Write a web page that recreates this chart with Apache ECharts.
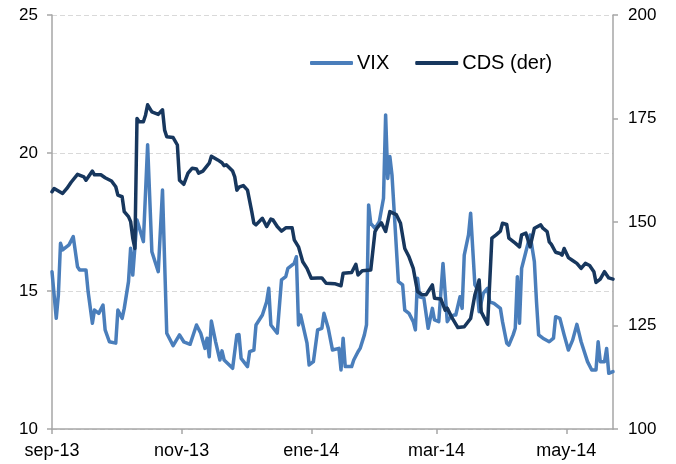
<!DOCTYPE html>
<html lang="es">

<head>
  <meta charset="utf-8" />
  <title>VIX y CDS</title>
  <script src="https://cdn.jsdelivr.net/npm/echarts@6/dist/echarts.min.js"></script>
  <style>
    * {
      margin: 0;
      padding: 0;
    }

    #chart-container {
      width: 676px;
      height: 464px;
      background: #fff;
    }
  </style>
</head>

<body>
  <div id="chart-container"></div>

  <script>
    // datos (fechas aproximadas)
    const vixDates = [
      '2013-09-01', '2013-09-03', '2013-09-04', '2013-09-05', '2013-09-06', '2013-09-09', '2013-09-11', '2013-09-13',
      '2013-09-14', '2013-09-17', '2013-09-18', '2013-09-20', '2013-09-21', '2013-09-23', '2013-09-25', '2013-09-26',
      '2013-09-28', '2013-10-01', '2013-10-02', '2013-10-04', '2013-10-05', '2013-10-07', '2013-10-08', '2013-10-09',
      '2013-10-11', '2013-10-14', '2013-10-16', '2013-10-18', '2013-10-21', '2013-10-23', '2013-10-25', '2013-10-28',
      '2013-10-31', '2013-11-02', '2013-11-05', '2013-11-08', '2013-11-10', '2013-11-12', '2013-11-13', '2013-11-14',
      '2013-11-15', '2013-11-17', '2013-11-19', '2013-11-20', '2013-11-21', '2013-11-25', '2013-11-27', '2013-11-28',
      '2013-11-29', '2013-12-02', '2013-12-03', '2013-12-05', '2013-12-06', '2013-12-09', '2013-12-11', '2013-12-12',
      '2013-12-13', '2013-12-16', '2013-12-18', '2013-12-20', '2013-12-21', '2013-12-24', '2013-12-25', '2013-12-26',
      '2013-12-27', '2013-12-30', '2013-12-31', '2014-01-02', '2014-01-04', '2014-01-06', '2014-01-07', '2014-01-09',
      '2014-01-11', '2014-01-14', '2014-01-15', '2014-01-16', '2014-01-17', '2014-01-20', '2014-01-21', '2014-01-23',
      '2014-01-24', '2014-01-26', '2014-01-27', '2014-01-28', '2014-01-29', '2014-01-31', '2014-02-02', '2014-02-04',
      '2014-02-05', '2014-02-06', '2014-02-07', '2014-02-08', '2014-02-11', '2014-02-13', '2014-02-14', '2014-02-16',
      '2014-02-18', '2014-02-19', '2014-02-20', '2014-02-21', '2014-02-23', '2014-02-25', '2014-02-27', '2014-02-28',
      '2014-03-02', '2014-03-04', '2014-03-06', '2014-03-07', '2014-03-09', '2014-03-10', '2014-03-12', '2014-03-13',
      '2014-03-14', '2014-03-16', '2014-03-17', '2014-03-19', '2014-03-20', '2014-03-21', '2014-03-23', '2014-03-25',
      '2014-03-26', '2014-03-28', '2014-03-31', '2014-04-01', '2014-04-03', '2014-04-04', '2014-04-06', '2014-04-07',
      '2014-04-08', '2014-04-09', '2014-04-10', '2014-04-12', '2014-04-14', '2014-04-16', '2014-04-17', '2014-04-18',
      '2014-04-20', '2014-04-23', '2014-04-25', '2014-04-26', '2014-04-28', '2014-04-30', '2014-05-02', '2014-05-04',
      '2014-05-06', '2014-05-08', '2014-05-11', '2014-05-13', '2014-05-15', '2014-05-16', '2014-05-17', '2014-05-19',
      '2014-05-20', '2014-05-21', '2014-05-23'
    ];
    const vixValues = [
      15.70, 14.01, 14.86, 16.73, 16.49, 16.67, 16.97, 15.88,
      15.76, 15.76, 14.97, 13.83, 14.31, 14.19, 14.49, 13.59,
      13.16, 13.11, 14.31, 14.01, 14.37, 15.34, 16.55, 15.58,
      17.57, 16.79, 20.30, 16.42, 15.70, 18.66, 13.47, 13.02,
      13.41, 13.16, 13.07, 13.77, 13.47, 12.92, 13.29, 12.62,
      13.91, 13.16, 12.50, 12.83, 12.50, 12.20, 13.41, 13.42,
      12.56, 12.26, 12.80, 12.86, 13.77, 14.13, 14.61, 15.10,
      13.77, 13.47, 15.40, 15.52, 15.82, 16.00, 16.24, 13.77,
      14.13, 13.11, 12.32, 12.44, 13.59, 13.65, 14.19, 13.65,
      12.86, 12.92, 12.14, 13.29, 12.26, 12.26, 12.50, 12.80,
      12.92, 13.41, 13.77, 18.12, 17.45, 17.27, 17.51, 18.36,
      21.38, 19.08, 19.87, 19.20, 15.34, 15.22, 14.31, 14.19,
      13.89, 13.59, 15.46, 14.79, 14.74, 13.65, 14.37, 13.95,
      13.89, 16.00, 13.89, 14.01, 14.13, 14.13, 14.79, 14.37,
      16.30, 17.03, 17.82, 15.22, 15.10, 14.25, 14.92, 15.10,
      14.61, 14.55, 14.37, 13.89, 13.11, 13.04, 13.41, 13.65,
      15.52, 13.83, 15.82, 16.42, 17.03, 16.06, 14.61, 13.41,
      13.29, 13.16, 13.29, 14.07, 14.01, 13.41, 12.86, 13.22,
      13.79, 13.16, 12.44, 12.14, 12.14, 13.16, 12.44, 12.44,
      12.92, 12.02, 12.08
    ];

    const cdsDates = [
      '2013-09-01', '2013-09-02', '2013-09-06', '2013-09-08', '2013-09-10', '2013-09-13', '2013-09-16', '2013-09-17',
      '2013-09-20', '2013-09-21', '2013-09-24', '2013-09-26', '2013-09-29', '2013-10-01', '2013-10-02', '2013-10-04',
      '2013-10-05', '2013-10-07', '2013-10-08', '2013-10-09', '2013-10-10', '2013-10-11', '2013-10-12', '2013-10-14',
      '2013-10-15', '2013-10-16', '2013-10-18', '2013-10-21', '2013-10-23', '2013-10-24', '2013-10-25', '2013-10-28',
      '2013-10-30', '2013-10-31', '2013-11-02', '2013-11-04', '2013-11-06', '2013-11-08', '2013-11-09', '2013-11-11',
      '2013-11-14', '2013-11-15', '2013-11-18', '2013-11-20', '2013-11-21', '2013-11-22', '2013-11-25', '2013-11-26',
      '2013-11-27', '2013-11-28', '2013-11-30', '2013-12-02', '2013-12-04', '2013-12-05', '2013-12-06', '2013-12-09',
      '2013-12-11', '2013-12-13', '2013-12-14', '2013-12-16', '2013-12-18', '2013-12-20', '2013-12-23', '2013-12-24',
      '2013-12-26', '2013-12-28', '2013-12-30', '2014-01-01', '2014-01-04', '2014-01-06', '2014-01-08', '2014-01-12',
      '2014-01-15', '2014-01-16', '2014-01-20', '2014-01-22', '2014-01-23', '2014-01-25', '2014-01-29', '2014-01-31',
      '2014-02-01', '2014-02-03', '2014-02-05', '2014-02-07', '2014-02-10', '2014-02-12', '2014-02-14', '2014-02-16',
      '2014-02-18', '2014-02-20', '2014-02-22', '2014-02-24', '2014-02-26', '2014-02-27', '2014-02-28', '2014-03-03',
      '2014-03-05', '2014-03-06', '2014-03-08', '2014-03-11', '2014-03-14', '2014-03-17', '2014-03-19', '2014-03-21',
      '2014-03-22', '2014-03-25', '2014-03-26', '2014-03-27', '2014-03-29', '2014-03-31', '2014-04-01', '2014-04-03',
      '2014-04-04', '2014-04-07', '2014-04-09', '2014-04-10', '2014-04-12', '2014-04-14', '2014-04-16', '2014-04-19',
      '2014-04-20', '2014-04-22', '2014-04-23', '2014-04-24', '2014-04-26', '2014-04-28', '2014-04-29', '2014-04-30',
      '2014-05-02', '2014-05-04', '2014-05-06', '2014-05-08', '2014-05-10', '2014-05-12', '2014-05-14', '2014-05-15',
      '2014-05-17', '2014-05-19', '2014-05-21', '2014-05-23'
    ];
    const cdsValues = [
      157.3, 158.1, 156.9, 158.1, 159.6, 161.5, 160.9, 160.1,
      162.3, 161.4, 161.4, 160.7, 159.9, 158.5, 156.5, 156.1,
      152.5, 151.3, 150.1, 146.1, 143.6, 175.0, 174.2, 174.2,
      175.8, 178.3, 176.6, 176.0, 177.1, 172.2, 170.6, 170.4,
      168.6, 160.1, 159.1, 161.8, 163.0, 162.8, 161.8, 162.3,
      164.2, 165.9, 165.0, 164.3, 163.6, 163.8, 162.3, 160.9,
      157.7, 158.4, 158.8, 157.7, 152.5, 149.7, 149.3, 150.9,
      148.9, 150.7, 150.5, 148.9, 147.8, 148.6, 148.6, 145.7,
      144.0, 140.4, 138.8, 136.4, 136.5, 136.5, 135.2, 135.1,
      134.6, 137.6, 137.8, 139.8, 137.2, 138.2, 138.4, 147.7,
      148.6, 149.8, 147.7, 152.5, 151.8, 149.7, 143.6, 141.6,
      138.8, 133.2, 132.5, 132.4, 134.0, 134.8, 131.6, 131.4,
      128.7, 129.2, 127.1, 124.5, 124.7, 126.7, 132.4, 136.0,
      128.3, 125.3, 135.6, 146.1, 146.9, 147.8, 149.7, 149.4,
      146.1, 144.9, 144.0, 146.9, 147.3, 144.0, 148.5, 149.3,
      148.5, 147.7, 145.2, 144.6, 142.7, 142.4, 142.0, 143.6,
      141.4, 140.7, 140.0, 138.8, 140.0, 139.5, 138.0, 135.4,
      136.2, 138.0, 136.5, 136.2
    ];

    const monthNames = ['ene', 'feb', 'mar', 'abr', 'may', 'jun', 'jul', 'ago', 'sep', 'oct', 'nov', 'dic'];
    const firstDay = '2013-09-01';
    const lastDay = '2014-05-23';

    // eje de categorias: un dia por categoria
    const days = [];
    for (let t = Date.parse(firstDay); t <= Date.parse(lastDay); t += 86400000) {
      days.push(new Date(t).toISOString().slice(0, 10));
    }

    const toPairs = (dates, values) => dates.map((d, i) => [days.indexOf(d), values[i]]);

    // marca cada dos meses: sep, nov, ene, mar, may
    const isTick = (index, value) => {
      const m = +value.slice(5, 7);
      return value.slice(8) === '01' && m % 2 === 1;
    };
  </script>

  <script>
    var dom = document.getElementById("chart-container");
    var myChart = echarts.init(dom, null, { renderer: "canvas" });

    var font = "'Liberation Sans', Arial, sans-serif";
    var axisColor = "#a6a6a6";

    var option = {
      animation: false,
      textStyle: { fontFamily: font },
      grid: { left: 52, right: 63, top: 15, bottom: 35, containLabel: false },
      legend: {
        left: 305,
        top: 48,
        itemWidth: 43,
        itemHeight: 4,
        itemGap: 26,
        icon: "roundRect",
        textStyle: { fontSize: 20, color: "#000", fontFamily: font, padding: [0, 0, 0, -1] },
        data: ["VIX", "CDS (der)"],
      },
      xAxis: {
        type: "category",
        data: days,
        boundaryGap: false,
        axisLine: { lineStyle: { color: axisColor, width: 1.5 } },
        axisTick: { interval: isTick, length: 5, lineStyle: { color: axisColor, width: 1.5 } },
        axisLabel: {
          interval: isTick,
          margin: 13,
          fontSize: 18,
          color: "#000",
          formatter: (v) => monthNames[+v.slice(5, 7) - 1] + "-" + v.slice(2, 4),
        },
        splitLine: { show: false },
      },
      yAxis: [
        {
          type: "value",
          min: 10,
          max: 25,
          interval: 5,
          axisLine: { show: true, lineStyle: { color: axisColor, width: 1.5 } },
          axisTick: { show: true, length: 5, lineStyle: { color: axisColor, width: 1.5 } },
          axisLabel: { margin: 14, fontSize: 17, color: "#000" },
          splitLine: { show: true, lineStyle: { color: "#d9d9d9", type: [5, 3], width: 1 } },
        },
        {
          type: "value",
          min: 100,
          max: 200,
          interval: 25,
          position: "right",
          axisLine: { show: true, lineStyle: { color: axisColor, width: 1.5 } },
          axisTick: { show: true, length: 5, lineStyle: { color: axisColor, width: 1.5 } },
          axisLabel: { margin: 15, fontSize: 17, color: "#000" },
          splitLine: { show: false },
        },
      ],
      series: [
        {
          name: "VIX",
          type: "line",
          yAxisIndex: 0,
          data: toPairs(vixDates, vixValues),
          showSymbol: false,
          symbol: "none",
          color: "#4a7ebb",
          lineStyle: { width: 3.5, color: "#4a7ebb", cap: "round", join: "round" },
        },
        {
          name: "CDS (der)",
          type: "line",
          yAxisIndex: 1,
          data: toPairs(cdsDates, cdsValues),
          showSymbol: false,
          symbol: "none",
          color: "#17375e",
          lineStyle: { width: 3.5, color: "#17375e", cap: "round", join: "round" },
        },
      ],
    };

    myChart.setOption(option);
    window.addEventListener("resize", myChart.resize);
  </script>
</body>

</html>
